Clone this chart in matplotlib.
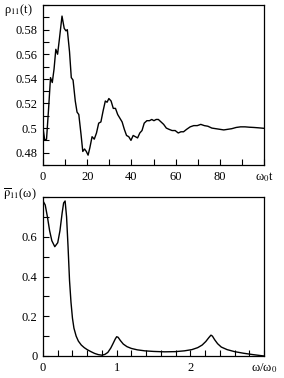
import matplotlib
matplotlib.use("Agg")
import matplotlib.pyplot as plt
from matplotlib.ticker import MultipleLocator

# top panel: rho_11(t)
t = [0, 0.8, 1.6, 2.5, 3.4, 4.2, 5.0, 5.8, 6.6, 7.4, 8.6, 9.6, 10.4, 11.0, 12.0,
     12.8, 13.6, 14.6, 15.4, 16.2, 17.2, 18.0, 18.8, 19.6, 20.4, 21.2, 22.2, 23.2,
     24.2, 25.2, 26.2, 27.2, 28.2, 29.0, 29.8, 30.8, 31.8, 32.8, 33.8, 34.8, 35.8,
     36.8, 37.8, 38.8, 39.8, 40.8, 41.8, 42.8, 43.8, 44.8, 45.8, 47.0, 48.2, 49.2,
     50.2, 51.2, 52.2, 53.4, 54.6, 55.8, 57.0, 58.4, 59.8, 61.2, 62.4, 63.6, 65.0,
     66.6, 68.2, 69.8, 71.4, 73.0, 74.6, 76.4, 78.2, 80.0, 81.8, 83.6, 85.4, 87.4,
     89.4, 91.4, 93.4, 95.4, 97.6, 100]
rho_t = [0.500, 0.490, 0.491, 0.515, 0.541, 0.537, 0.548, 0.564, 0.560, 0.572,
         0.591, 0.581, 0.579, 0.580, 0.562, 0.541, 0.539, 0.522, 0.513, 0.511,
         0.495, 0.481, 0.483, 0.481, 0.478, 0.484, 0.493, 0.491, 0.496, 0.504,
         0.505, 0.514, 0.522, 0.521, 0.524, 0.522, 0.516, 0.516, 0.511, 0.508,
         0.505, 0.499, 0.494, 0.493, 0.490, 0.494, 0.493, 0.492, 0.496, 0.498,
         0.504, 0.506, 0.506, 0.507, 0.506, 0.507, 0.507, 0.505, 0.503, 0.500,
         0.499, 0.498, 0.498, 0.496, 0.497, 0.497, 0.499, 0.501, 0.502, 0.502,
         0.503, 0.502, 0.5015, 0.500, 0.4995, 0.499, 0.4985, 0.499, 0.4995, 0.5005,
         0.501, 0.501, 0.5007, 0.5005, 0.5002, 0.4998]

# bottom panel: spectrum
w = [0, 0.03, 0.06, 0.09, 0.12, 0.16, 0.20, 0.23, 0.26, 0.28, 0.30, 0.32, 0.34,
     0.36, 0.38, 0.40, 0.42, 0.45, 0.48, 0.52, 0.56, 0.60, 0.65, 0.70, 0.75, 0.80,
     0.84, 0.88, 0.92, 0.95, 0.98, 1.00, 1.02, 1.05, 1.09, 1.14, 1.20, 1.28, 1.38,
     1.50, 1.65, 1.80, 1.92, 2.02, 2.10, 2.16, 2.21, 2.25, 2.28, 2.30, 2.33, 2.37,
     2.42, 2.50, 2.60, 2.72, 2.85, 3.0]
rho_w = [0.78, 0.76, 0.70, 0.63, 0.58, 0.55, 0.57, 0.63, 0.72, 0.77, 0.78, 0.70,
         0.55, 0.38, 0.27, 0.19, 0.14, 0.10, 0.075, 0.055, 0.042, 0.032, 0.022,
         0.013, 0.007, 0.004, 0.008, 0.018, 0.040, 0.062, 0.085, 0.097, 0.094,
         0.078, 0.060, 0.047, 0.038, 0.031, 0.026, 0.023, 0.021, 0.022, 0.026,
         0.032, 0.042, 0.055, 0.073, 0.092, 0.105, 0.100, 0.082, 0.062, 0.045,
         0.032, 0.022, 0.014, 0.007, 0.0]

plt.rcParams.update({
    'font.family': 'serif',
    'font.serif': ['Liberation Serif'],
    'mathtext.fontset': 'stix',
    'font.size': 9,
})

fig = plt.figure(figsize=(2.84, 3.78), dpi=100)
W, H = 284, 378
ax1 = fig.add_axes([43 / W, 1 - 165 / H, 221 / W, 160 / H])
ax2 = fig.add_axes([43 / W, 1 - 356 / H, 221 / W, 159 / H])

ax1.plot(t, rho_t, color='black', linewidth=1.0)
ax1.set_xlim(0, 100)
ax1.set_ylim(0.47, 0.60)
ax1.set_xticks([0, 20, 40, 60, 80, 100])
ax1.set_xticklabels(['0', '20', '40', '60', '80', 'ω$_0$t'])
ax1.set_yticks([0.48, 0.50, 0.52, 0.54, 0.56, 0.58])
ax1.set_yticklabels(['0.48', '0.5', '0.52', '0.54', '0.56', '0.58'])
ax1.xaxis.set_minor_locator(MultipleLocator(10))
ax1.yaxis.set_minor_locator(MultipleLocator(0.01))

ax2.plot(w, rho_w, color='black', linewidth=1.0)
ax2.set_xlim(0, 3)
ax2.set_ylim(0, 0.8)
ax2.set_xticks([0, 1, 2, 3])
ax2.set_xticklabels(['0', '1', '2', 'ω/ω$_0$'])
ax2.set_yticks([0, 0.2, 0.4, 0.6])
ax2.set_yticklabels(['0', '0.2', '0.4', '0.6'])
ax2.xaxis.set_minor_locator(MultipleLocator(0.2))
ax2.yaxis.set_minor_locator(MultipleLocator(0.1))

for ax in (ax1, ax2):
    ax.tick_params(which='both', direction='in', length=4, width=0.8,
                   top=False, right=False)
    ax.tick_params(axis='x', pad=4)
    ax.tick_params(axis='y', pad=4)
    for s in ax.spines.values():
        s.set_linewidth(0.9)

fig.text(18 / W, 1 - 10 / H, 'ρ$_{11}$(t)', ha='center', va='center')
fig.text(20 / W, 1 - 194 / H, r'$\overline{\mathrm{\rho}}_{11}$(ω)', ha='center',
         va='center')

fig.savefig('out.png', dpi=100)
